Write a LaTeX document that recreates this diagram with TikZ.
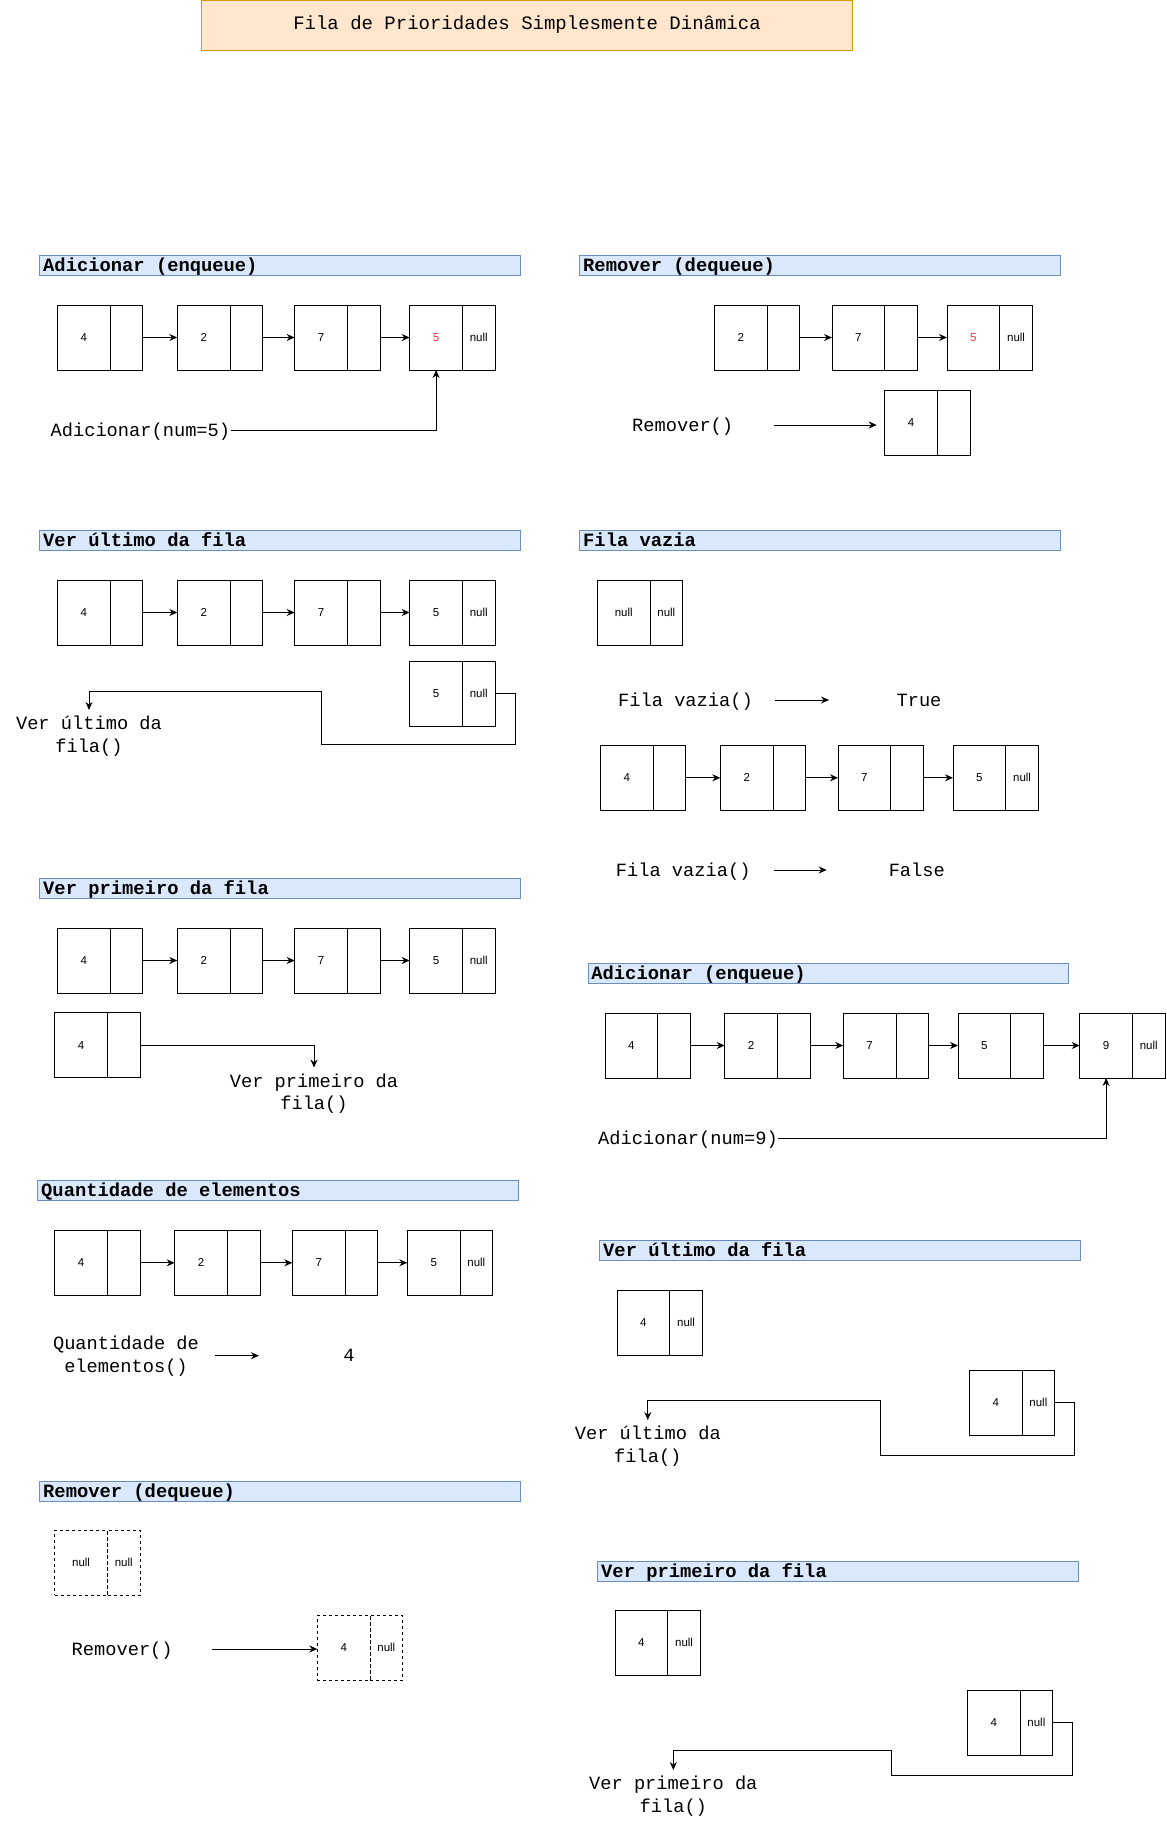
\documentclass[tikz,border=0pt]{standalone}
\usepackage{fontspec}
\newfontfamily\codefont{Liberation Mono}
\newfontfamily\cellfont{Liberation Sans}
\usepackage{tikz}
\usetikzlibrary{positioning,arrows.meta}
\definecolor{titlefill}{HTML}{FFE6CC}
\definecolor{titleline}{HTML}{D79B00}
\definecolor{barfill}{HTML}{DAE8FC}
\definecolor{barline}{HTML}{6C8EBF}
\definecolor{newval}{HTML}{FF3333}
\tikzset{
>={Stealth[length=8bp,width=7bp]}, % filled heads like the drawing
valcell/.style={draw, minimum width=52.8bp, minimum height=65bp, inner sep=0pt, outer sep=0pt,
  anchor=north west, font=\cellfont\fontsize{11.5bp}{13bp}\selectfont},
ptrcell/.style={draw, minimum width=32.5bp, minimum height=65bp, inner sep=0pt, outer sep=0pt,
  font=\cellfont\fontsize{11.5bp}{13bp}\selectfont},
secbar/.style={draw=barline, fill=barfill, anchor=north west, minimum height=20bp,
  inner xsep=3.4bp, inner ysep=0pt, text width=474bp, align=left, text height=16bp, text depth=4bp,
  execute at begin node={\spaceskip=0pt\relax\xspaceskip=0pt\relax}, % keep the mono spaces
  font=\codefont\bfseries\fontsize{18.8bp}{20bp}\selectfont},
codetext/.style={inner sep=0pt, text height=15bp, text depth=2.6bp,
  font=\codefont\fontsize{18.7bp}{22.5bp}\selectfont},
twoline/.style={inner xsep=0pt, inner ysep=5.5bp, anchor=north, align=center,
  font=\codefont\fontsize{18.7bp}{22.5bp}\selectfont},
removed/.style={dash pattern=on 3bp off 3bp}, % cells that leave the queue
}

\begin{document}
\begin{tikzpicture}[x=1bp, y=-1bp, line width=1bp]
    \useasboundingbox (0,0) rectangle (1166,1821);
    \node[draw=titleline, fill=titlefill, minimum width=650bp, minimum height=50bp, inner sep=0pt,
      font=\codefont\fontsize{19bp}{20bp}\selectfont] (title) at (527,25) {Fila de Prioridades Simplesmente Dinâmica};

    % Adicionar (enqueue)
    \node[secbar] (h_1) at (39.3,255) {Adicionar (enqueue)};
    \node[valcell] (a_1) at (57.3,305) {4};   \node[ptrcell, right=0pt of a_1] (a_1n) {};
    \node[valcell] (a_2) at (177.3,305) {2};  \node[ptrcell, right=0pt of a_2] (a_2n) {};
    \node[valcell] (a_3) at (294.7,305) {7};  \node[ptrcell, right=0pt of a_3] (a_3n) {};
    \node[valcell, text=newval] (a_4) at (409.7,305) {5};  \node[ptrcell, right=0pt of a_4] (a_4n) {null};
    \path[->] (a_1n) edge (a_2) (a_2n) edge (a_3) (a_3n) edge (a_4);
    \node[codetext] (add5) at (140.4,430) {Adicionar(num=5)};
    \draw[->] (add5) -| (a_4.south);

    % Remover (dequeue)
    \node[secbar] (h_2) at (579.3,255) {Remover (dequeue)};
    \node[valcell] (r_1) at (714.3,305) {2};  \node[ptrcell, right=0pt of r_1] (r_1n) {};
    \node[valcell] (r_2) at (832,305) {7};    \node[ptrcell, right=0pt of r_2] (r_2n) {};
    \node[valcell, text=newval] (r_3) at (947,305) {5};  \node[ptrcell, right=0pt of r_3] (r_3n) {null};
    \path[->] (r_1n) edge (r_2) (r_2n) edge (r_3);
    \node[valcell] (r_0) at (884.7,390.3) {4};  \node[ptrcell, right=0pt of r_0] (r_0n) {};
    \node[codetext] (rem1) at (682.7,425) {Remover()};
    \draw[->, shorten <=40bp, shorten >=8bp] (rem1.east) -- (rem1.east -| r_0.west);

    % Ver ultimo da fila
    \node[secbar] (h_3) at (39.3,530) {Ver último da fila};
    \node[valcell] (u_1) at (57.3,580) {4};   \node[ptrcell, right=0pt of u_1] (u_1n) {};
    \node[valcell] (u_2) at (177.3,580) {2};  \node[ptrcell, right=0pt of u_2] (u_2n) {};
    \node[valcell] (u_3) at (294.7,580) {7};  \node[ptrcell, right=0pt of u_3] (u_3n) {};
    \node[valcell] (u_4) at (409.7,580) {5};  \node[ptrcell, right=0pt of u_4] (u_4n) {null};
    \path[->] (u_1n) edge (u_2) (u_2n) edge (u_3) (u_3n) edge (u_4);
    \node[valcell] (u_5) at (409.7,661) {5};  \node[ptrcell, right=0pt of u_5] (u_5n) {null};
    \node[twoline] (ult1) at (89,710) {Ver último da\\fila()};
    \draw[->] (u_5n.east) -- ++(20.5,0) -- ++(0,51) -- ++(-194.5,0) -- ++(0,-53) -| (ult1.north);

    % Fila vazia
    \node[secbar] (h_4) at (579.3,530) {Fila vazia};
    \node[valcell] (v_0) at (597.3,580.3) {null};  \node[ptrcell, right=0pt of v_0] (v_0n) {null};
    \node[codetext] (fv1) at (685.5,700) {Fila vazia()};
    \node[codetext] (tru) at (919,700) {True};
    \draw[->, shorten <=22bp, shorten >=67bp] (fv1) -- (tru);
    \node[valcell] (w_1) at (600.3,745.3) {4};  \node[ptrcell, right=0pt of w_1] (w_1n) {};
    \node[valcell] (w_2) at (720.3,745.3) {2};  \node[ptrcell, right=0pt of w_2] (w_2n) {};
    \node[valcell] (w_3) at (838,745.3) {7};    \node[ptrcell, right=0pt of w_3] (w_3n) {};
    \node[valcell] (w_4) at (953,745.3) {5};    \node[ptrcell, right=0pt of w_4] (w_4n) {null};
    \path[->] (w_1n) edge (w_2) (w_2n) edge (w_3) (w_3n) edge (w_4);
    \node[codetext] (fv2) at (683.2,870) {Fila vazia()};
    \node[codetext] (fal) at (916.8,870) {False};
    \draw[->, shorten <=22.7bp, shorten >=61.5bp] (fv2) -- (fal);

    % Ver primeiro da fila
    \node[secbar] (h_5) at (39.3,878) {Ver primeiro da fila};
    \node[valcell] (p_1) at (57.3,928) {4};   \node[ptrcell, right=0pt of p_1] (p_1n) {};
    \node[valcell] (p_2) at (177.3,928) {2};  \node[ptrcell, right=0pt of p_2] (p_2n) {};
    \node[valcell] (p_3) at (294.7,928) {7};  \node[ptrcell, right=0pt of p_3] (p_3n) {};
    \node[valcell] (p_4) at (409.7,928) {5};  \node[ptrcell, right=0pt of p_4] (p_4n) {null};
    \path[->] (p_1n) edge (p_2) (p_2n) edge (p_3) (p_3n) edge (p_4);
    \node[valcell] (p_0) at (54.7,1012.7) {4};  \node[ptrcell, right=0pt of p_0] (p_0n) {};
    \node[twoline] (prim1) at (314,1067.5) {Ver primeiro da\\fila()};
    \draw[->] (p_0n.east) -| (prim1.north);

    % Adicionar (enqueue) com 9
    \node[secbar] (h_6) at (587.5,963) {Adicionar (enqueue)};
    \node[valcell] (e_1) at (605,1013) {4};    \node[ptrcell, right=0pt of e_1] (e_1n) {};
    \node[valcell] (e_2) at (724.7,1013) {2};  \node[ptrcell, right=0pt of e_2] (e_2n) {};
    \node[valcell] (e_3) at (843.2,1013) {7};  \node[ptrcell, right=0pt of e_3] (e_3n) {};
    \node[valcell] (e_4) at (958,1013) {5};    \node[ptrcell, right=0pt of e_4] (e_4n) {};
    \node[valcell] (e_5) at (1079.7,1013) {9}; \node[ptrcell, right=0pt of e_5] (e_5n) {null};
    \path[->] (e_1n) edge (e_2) (e_2n) edge (e_3) (e_3n) edge (e_4) (e_4n) edge (e_5);
    \node[codetext] (add9) at (688,1138) {Adicionar(num=9)};
    \draw[->] (add9) -| (e_5.south);

    % Quantidade de elementos
    \node[secbar] (h_7) at (37.3,1180) {Quantidade de elementos};
    \node[valcell] (q_1) at (54.7,1230.3) {4};   \node[ptrcell, right=0pt of q_1] (q_1n) {};
    \node[valcell] (q_2) at (174.7,1230.3) {2};  \node[ptrcell, right=0pt of q_2] (q_2n) {};
    \node[valcell] (q_3) at (292.3,1230.3) {7};  \node[ptrcell, right=0pt of q_3] (q_3n) {};
    \node[valcell] (q_4) at (407.3,1230.3) {5};  \node[ptrcell, right=0pt of q_4] (q_4n) {null};
    \path[->] (q_1n) edge (q_2) (q_2n) edge (q_3) (q_3n) edge (q_4);
    \node[twoline] (qtd) at (126,1330) {Quantidade de\\elementos()};
    \node[codetext] (cnt) at (349,1355.7) {4};
    \draw[->, shorten <=16bp, shorten >=84bp] (qtd.east |- cnt) -- (cnt);

    % Remover (dequeue) do ultimo
    \node[secbar] (h_8) at (39.3,1480.5) {Remover (dequeue)};
    \node[valcell, removed] (d_0) at (54.7,1530.3) {null};  \node[ptrcell, removed, right=0pt of d_0] (d_0n) {null};
    \node[valcell, removed] (d_1) at (317.3,1615.3) {4};    \node[ptrcell, removed, right=0pt of d_1] (d_1n) {null};
    \node[codetext] (rem2) at (122.2,1649) {Remover()};
    \draw[->, shorten <=38.6bp] (rem2.east) -- (rem2.east -| d_1.west);

    % Ver ultimo da fila com um elemento
    \node[secbar] (h_9) at (599.3,1240) {Ver último da fila};
    \node[valcell] (s_1) at (617,1290.3) {4};    \node[ptrcell, right=0pt of s_1] (s_1n) {null};
    \node[valcell] (s_2) at (969.3,1370.3) {4};  \node[ptrcell, right=0pt of s_2] (s_2n) {null};
    \node[twoline] (ult2) at (647.8,1420) {Ver último da\\fila()};
    \draw[->] (s_2n.east) -- ++(19.5,0) -- ++(0,52.5) -- ++(-193.8,0) -- ++(0,-54.6) -| (ult2.north);

    % Ver primeiro da fila com um elemento
    \node[secbar] (h_10) at (597.3,1560.7) {Ver primeiro da fila};
    \node[valcell] (f_1) at (615,1610.3) {4};    \node[ptrcell, right=0pt of f_1] (f_1n) {null};
    \node[valcell] (f_2) at (967.3,1690.3) {4};  \node[ptrcell, right=0pt of f_2] (f_2n) {null};
    \node[twoline] (prim2) at (673.3,1770) {Ver primeiro da\\fila()};
    \draw[->] (f_2n.east) -- ++(20,0) -- ++(0,52.5) -- ++(-180.9,0) -- ++(0,-24.6) -| (prim2.north);
\end{tikzpicture}
\end{document}
